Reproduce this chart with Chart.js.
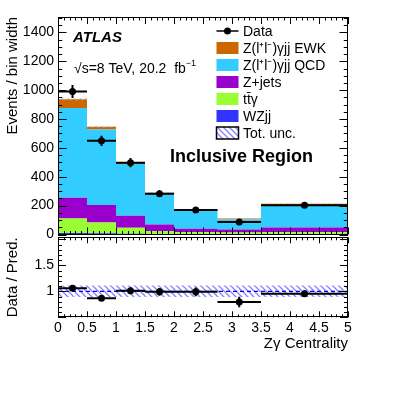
<!DOCTYPE html>
<html>
<head>
<meta charset="utf-8">
<script src="https://cdn.jsdelivr.net/npm/chart.js@4"></script>
<style>
  html, body { margin: 0; padding: 0; background: #fff; }
  #wrap { position: relative; width: 407px; height: 394px; }
  #top { position: absolute; left: 0; top: 0; }
  #bot { position: absolute; left: 0; top: 235px; }
</style>
</head>
<body>
<div id="wrap">
  <canvas id="bot" width="407" height="159"></canvas>
  <canvas id="top" width="407" height="245"></canvas>
</div>
<script>
// bins of Z-gamma centrality
const binEdges = [0, 0.5, 1, 1.5, 2, 2.75, 3.5, 5];

// events / bin width, per bin
const dataValues = [990, 649, 498, 283, 170, 87, 202];
const dataErrors = [45, 36, 32, 24, 15, 11, 12];
const wzjjValues = [10, 8, 5, 3, 2, 2, 2];
const ttgValues = [101, 75, 41, 20, 14, 12, 14];
const zjetsValues = [144, 121, 84, 47, 24, 20, 33];
const qcdValues = [621, 524, 358, 213, 128, 70, 156];
const ewkValues = [61, 18, 8, 7, 5, 6, 8];
const totUnc = [8, 6, 4, 3, 2, 2, 2];

// data / prediction
const ratioValues = [1.058, 0.865, 1.01, 0.99, 0.99, 0.795, 0.955];
const ratioErrors = [0.05, 0.05, 0.065, 0.075, 0.085, 0.1, 0.06];
const ratioUnc = [0.11, 0.11, 0.11, 0.11, 0.11, 0.11, 0.11];

// ticks
const upperYTicks = [0, 200, 400, 600, 800, 1000, 1200, 1400];
const ratioYTicks = [0.5, 1, 1.5, 2];
const ratioYLabels = [1, 1.5];
const xTicks = [0, 0.5, 1, 1.5, 2, 2.5, 3, 3.5, 4, 4.5, 5];

const legendLabels = ["Data", "Z(l\u207Al\u207B)\u03B3jj EWK", "Z(l\u207Al\u207B)\u03B3jj QCD", "Z+jets", "tt\u0304\u03B3", "WZjj", "Tot. unc."];
const colors = {
  ewk: "#cc6600",
  qcd: "#33ccff",
  zjets: "#9900cc",
  ttg: "#99ff33",
  wzjj: "#3333ff",
};

Chart.defaults.font.family = "'Liberation Sans', Arial, sans-serif";
Chart.defaults.color = "#000";

function makeHatch(color) {
  const c = document.createElement("canvas");
  c.width = 6;
  c.height = 6;
  const g = c.getContext("2d");
  g.strokeStyle = color;
  g.lineWidth = 1.3;
  g.beginPath();
  g.moveTo(0, 0); g.lineTo(6, 6);
  g.moveTo(-3, 3); g.lineTo(3, 9);
  g.moveTo(3, -3); g.lineTo(9, 3);
  g.stroke();
  return g.createPattern(c, "repeat");
}
const hatch = makeHatch("rgba(110,110,255,0.85)");
const thinHatch = makeHatch("rgba(170,170,200,0.7)");

// histogram as stepped line points at bin edges
function steps(values) {
  return binEdges.map((x, i) => ({ x: x, y: values[Math.min(i, values.length - 1)] }));
}
function addUp(a, b) {
  return a.map((v, i) => v + b[i]);
}
function centers() {
  return binEdges.slice(0, -1).map((e, i) => (e + binEdges[i + 1]) / 2);
}
const plain = (v) => String(v);

const stack1 = wzjjValues;
const stack2 = addUp(stack1, ttgValues);
const stack3 = addUp(stack2, zjetsValues);
const stack4 = addUp(stack3, qcdValues);
const stack5 = addUp(stack4, ewkValues);

function layer(values, color, fill) {
  return {
    data: steps(values),
    stepped: "before",
    borderColor: "rgba(0,0,0,0)",
    borderWidth: 0,
    backgroundColor: color,
    fill: fill,
    pointRadius: 0,
    order: 3,
  };
}

const framePlugin = {
  id: "frame",
  afterDatasetsDraw(chart, args, o) {
    const { ctx, chartArea: a, scales } = chart;
    const x = scales.x, y = scales.y;
    ctx.save();
    ctx.strokeStyle = "#000";
    ctx.lineWidth = 1;
    const seg = (x1, y1, x2, y2) => {
      ctx.beginPath();
      ctx.moveTo(x1, y1);
      ctx.lineTo(x2, y2);
      ctx.stroke();
    };
    for (let v = x.min; v <= x.max + 1e-9; v += o.xMinorStep) {
      const px = Math.round(x.getPixelForValue(v)) + 0.5;
      const major = Math.abs(v / o.xMajorStep - Math.round(v / o.xMajorStep)) < 1e-6;
      const len = major ? o.xMajorLen : o.xMajorLen / 2;
      seg(px, a.bottom, px, a.bottom - len);
      seg(px, a.top, px, a.top + len);
    }
    for (let v = o.yStart; v <= y.max + 1e-9; v += o.yMinorStep) {
      const py = Math.round(y.getPixelForValue(v)) + 0.5;
      const major = Math.abs(v / o.yMajorStep - Math.round(v / o.yMajorStep)) < 1e-6;
      const len = major ? o.yMajorLen : o.yMajorLen / 2;
      seg(a.left, py, a.left + len, py);
      seg(a.right, py, a.right - len, py);
    }
    ctx.strokeRect(Math.round(a.left) + 0.5, Math.round(a.top) + 0.5,
      Math.round(a.width) - 1, Math.round(a.height) - 1);
    ctx.restore();
  },
};

const errorBarPlugin = {
  id: "errorBars",
  afterDatasetsDraw(chart) {
    const { ctx, scales } = chart;
    chart.data.datasets.forEach((ds) => {
      if (!ds.errors) return;
      ctx.save();
      ctx.strokeStyle = "#000";
      ctx.lineWidth = 2;
      ds.data.forEach((p, i) => {
        const x1 = scales.x.getPixelForValue(binEdges[i]);
        const x2 = scales.x.getPixelForValue(binEdges[i + 1]);
        const xc = scales.x.getPixelForValue(p.x);
        const yc = scales.y.getPixelForValue(p.y);
        const yt = scales.y.getPixelForValue(p.y + ds.errors[i]);
        const yb = scales.y.getPixelForValue(p.y - ds.errors[i]);
        ctx.beginPath();
        ctx.moveTo(x1, yc); ctx.lineTo(x2, yc);
        ctx.moveTo(xc, yt); ctx.lineTo(xc, yb);
        ctx.stroke();
        ctx.beginPath();
        ctx.fillStyle = "#000";
        ctx.arc(xc, yc, 3.5, 0, Math.PI * 2);
        ctx.fill();
      });
      ctx.restore();
    });
  },
};

const textPlugin = {
  id: "texts",
  afterDraw(chart) {
    const ctx = chart.ctx;
    const fam = "'Liberation Sans', Arial, sans-serif";
    ctx.save();
    ctx.fillStyle = "#000";
    ctx.textBaseline = "alphabetic";
    ctx.textAlign = "left";
    ctx.font = "italic bold 15px " + fam;
    ctx.fillText("ATLAS", 73, 42);
    ctx.font = "14px " + fam;
    const s = "\u221As=8 TeV, 20.2  fb";
    ctx.fillText(s, 74, 72.5);
    const w = ctx.measureText(s).width;
    ctx.font = "9px " + fam;
    ctx.fillText("\u22121", 74 + w, 66);
    ctx.font = "bold 18px " + fam;
    ctx.fillText("Inclusive Region", 170, 162);

    // legend
    const bx = 216.5, bw = 22, bh = 12;
    const tx = 243;
    ctx.textBaseline = "middle";
    legendLabels.forEach((label, i) => {
      const yc = 31 + 17 * i;
      if (i === 0) {
        ctx.strokeStyle = "#000";
        ctx.lineWidth = 1.5;
        ctx.beginPath();
        ctx.moveTo(bx, yc); ctx.lineTo(bx + bw, yc);
        ctx.stroke();
        ctx.beginPath();
        ctx.arc(bx + bw / 2, yc, 3.5, 0, Math.PI * 2);
        ctx.fill();
      } else {
        const fills = [null, colors.ewk, colors.qcd, colors.zjets, colors.ttg, colors.wzjj, hatch];
        ctx.fillStyle = fills[i];
        ctx.fillRect(bx, yc - bh / 2, bw, bh);
        if (i === 6) {
          ctx.strokeStyle = "#000";
          ctx.lineWidth = 1.5;
          ctx.strokeRect(bx, yc - bh / 2, bw, bh);
        }
        ctx.fillStyle = "#000";
      }
      ctx.font = "14px " + fam;
      ctx.fillText(label, tx, yc + 1);
    });
    ctx.restore();
  },
};

const xc = centers();

new Chart(document.getElementById("top"), {
  type: "line",
  data: {
    datasets: [
      {
        data: xc.map((x, i) => ({ x: x, y: dataValues[i] })),
        errors: dataErrors,
        showLine: false,
        pointRadius: 0,
        order: 0,
      },
      layer(stack1, colors.wzjj, "origin"),
      layer(stack2, colors.ttg, "-1"),
      layer(stack3, colors.zjets, "-1"),
      layer(stack4, colors.qcd, "-1"),
      layer(stack5, colors.ewk, "-1"),
      {
        data: steps(stack5.map((v, i) => v - totUnc[i])),
        stepped: "before",
        borderColor: "rgba(0,0,0,0)",
        pointRadius: 0,
        fill: false,
        order: 1,
      },
      {
        data: steps(stack5.map((v, i) => v + totUnc[i])),
        stepped: "before",
        borderColor: "rgba(0,0,0,0)",
        backgroundColor: thinHatch,
        pointRadius: 0,
        fill: "-1",
        order: 1,
      },
    ],
  },
  options: {
    responsive: false,
    animation: false,
    events: [],
    layout: { padding: { top: 17, right: 59, bottom: 10.5, left: 0 } },
    plugins: {
      legend: { display: false },
      tooltip: { enabled: false },
      frame: { xMinorStep: 0.1, xMajorStep: 0.5, xMajorLen: 7, yStart: 0, yMinorStep: 50, yMajorStep: 200, yMajorLen: 8.5 },
    },
    scales: {
      x: { type: "linear", min: 0, max: 5, display: false },
      y: {
        type: "linear",
        min: 0,
        max: 1507,
        afterBuildTicks: (s) => { s.ticks = upperYTicks.map((v) => ({ value: v })); },
        afterFit: (s) => { s.width = 58; s.paddingTop = 0; s.paddingBottom = 0; },
        grid: { display: false, drawTicks: false },
        border: { display: false },
        ticks: { padding: 4, font: { size: 14 }, color: "#000", callback: plain },
        title: { display: true, text: "Events / bin width", align: "end", font: { size: 15 }, color: "#000", padding: { top: 4, bottom: 0 } },
      },
    },
  },
  plugins: [framePlugin, errorBarPlugin, textPlugin],
});

new Chart(document.getElementById("bot"), {
  type: "line",
  data: {
    datasets: [
      {
        data: xc.map((x, i) => ({ x: x, y: ratioValues[i] })),
        errors: ratioErrors,
        showLine: false,
        pointRadius: 0,
        order: 0,
      },
      {
        data: steps(ratioUnc.map((u) => 1 - u)),
        stepped: "before",
        borderColor: "rgba(0,0,0,0)",
        pointRadius: 0,
        fill: false,
        order: 2,
      },
      {
        data: steps(ratioUnc.map((u) => 1 + u)),
        stepped: "before",
        borderColor: "rgba(0,0,0,0)",
        backgroundColor: hatch,
        pointRadius: 0,
        fill: "-1",
        order: 2,
      },
      {
        data: [{ x: 0, y: 1 }, { x: 5, y: 1 }],
        borderColor: "#0000ff",
        borderWidth: 1.2,
        borderDash: [4, 3],
        pointRadius: 0,
        fill: false,
        order: 1,
      },
    ],
  },
  options: {
    responsive: false,
    animation: false,
    events: [],
    layout: { padding: { top: 2.3, right: 59, bottom: 36.7, left: 0 } },
    plugins: {
      legend: { display: false },
      tooltip: { enabled: false },
      frame: { xMinorStep: 0.1, xMajorStep: 0.5, xMajorLen: 6, yStart: 0.5, yMinorStep: 0.1, yMajorStep: 0.5, yMajorLen: 8 },
    },
    scales: {
      x: {
        type: "linear",
        min: 0,
        max: 5,
        afterBuildTicks: (s) => { s.ticks = xTicks.map((v) => ({ value: v })); },
        afterFit: (s) => { s.height = 40; s.paddingLeft = 0; s.paddingRight = 0; },
        grid: { display: false, drawTicks: false },
        border: { display: false },
        ticks: { padding: 2, autoSkip: false, maxRotation: 0, font: { size: 14 }, color: "#000", callback: plain },
        title: { display: true, text: "Z\u03B3 Centrality", align: "end", font: { size: 15 }, color: "#000", padding: { top: 0, bottom: 4 } },
      },
      y: {
        type: "linear",
        min: 0.5,
        max: 2.04,
        afterBuildTicks: (s) => { s.ticks = ratioYLabels.map((v) => ({ value: v })); },
        afterFit: (s) => { s.width = 58; s.paddingTop = 0; s.paddingBottom = 0; },
        grid: { display: false, drawTicks: false },
        border: { display: false },
        ticks: { padding: 4, font: { size: 14 }, color: "#000", callback: plain },
        title: { display: true, text: "Data / Pred.", align: "end", font: { size: 15 }, color: "#000", padding: { top: 4, bottom: 0 } },
      },
    },
  },
  plugins: [framePlugin, errorBarPlugin],
});
</script>
</body>
</html>
